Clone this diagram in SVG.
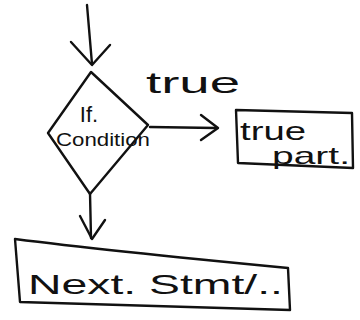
<svg xmlns="http://www.w3.org/2000/svg" width="360" height="320" viewBox="0 0 360 320">
<style>
.s{fill:none;stroke:#111;stroke-width:2.4;stroke-linecap:round;stroke-linejoin:round}
.t{font-family:"Liberation Sans","DejaVu Sans",sans-serif;fill:#111}
</style>
<rect width="360" height="320" fill="#fff"/>
<g id="connectors">
<path class="s" d="M87,5 L92,64"/>
<path class="s" d="M71,42 L92,65 L110,45"/>
<path class="s" d="M150,127 L216,128"/>
<path class="s" d="M201,115 L218,128 L201,140"/>
<path class="s" d="M90,193 L91,238"/>
<path class="s" d="M80,216 L92,239 L105,220"/>
<text class="t" x="146" y="93" font-size="30" textLength="94" lengthAdjust="spacingAndGlyphs">true</text>
</g>
<g id="decision">
<path class="s" d="M91,72 L148,125 L90,194 L48,133 Z"/>
<text class="t" x="89" y="122" font-size="22" text-anchor="middle">If.</text>
<text class="t" x="56" y="146" font-size="18" textLength="94" lengthAdjust="spacingAndGlyphs">Condition</text>
</g>
<g id="truepart">
<path class="s" d="M236,110 L352,113 L353,168 L238,163 Z"/>
<text class="t" x="240" y="140" font-size="26" textLength="66" lengthAdjust="spacingAndGlyphs">true</text>
<text class="t" x="272" y="164" font-size="24" textLength="78" lengthAdjust="spacingAndGlyphs">part.</text>
</g>
<g id="next">
<path class="s" d="M15,239 Q100,250 288,268 L290,310 L20,302 Z"/>
<text class="t" x="28" y="294" font-size="28" textLength="255" lengthAdjust="spacingAndGlyphs">Next. Stmt/..</text>
</g>
</svg>
